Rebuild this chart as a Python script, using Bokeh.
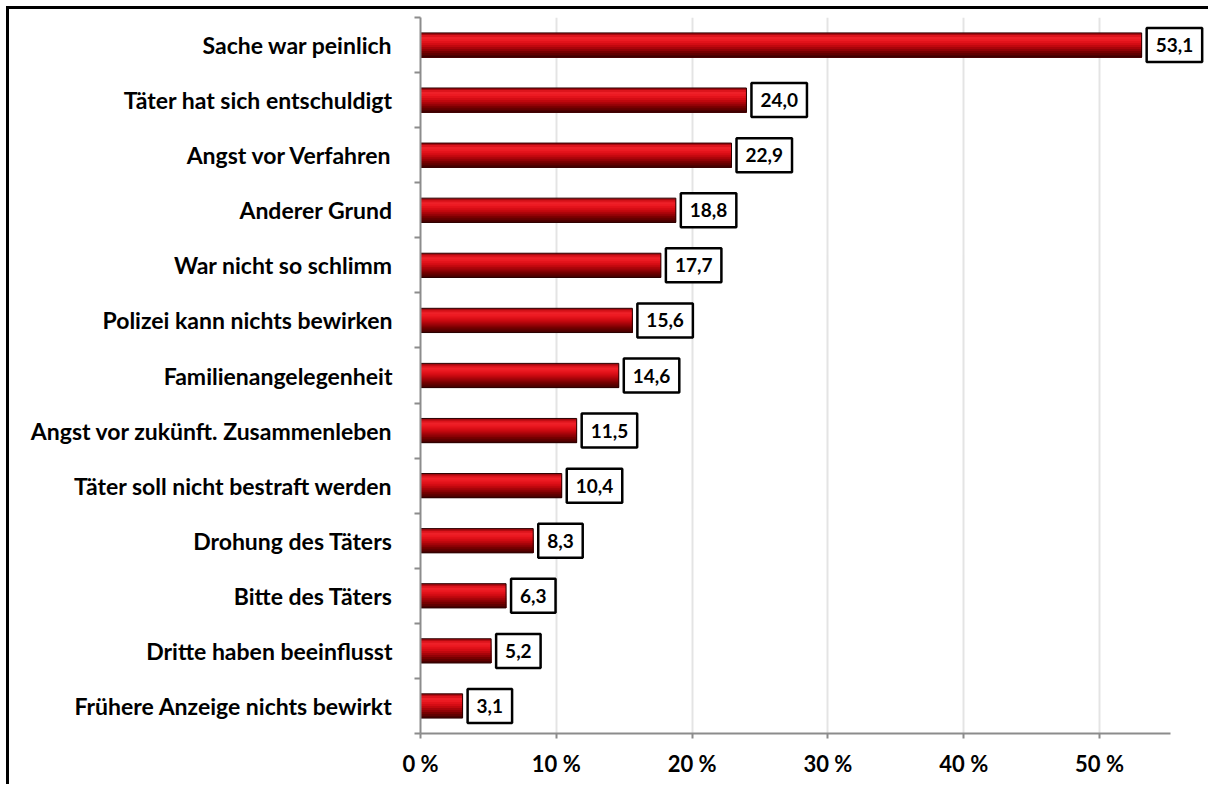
from bokeh.plotting import figure
from bokeh.models import Range1d, FixedTicker, ColumnDataSource, Label
from bokeh.transform import dodge
from bokeh.embed import file_html
from bokeh.resources import INLINE

categories = [
    "Sache war peinlich",
    "Täter hat sich entschuldigt",
    "Angst vor Verfahren",
    "Anderer Grund",
    "War nicht so schlimm",
    "Polizei kann nichts bewirken",
    "Familienangelegenheit",
    "Angst vor zukünft. Zusammenleben",
    "Täter soll nicht bestraft werden",
    "Drohung des Täters",
    "Bitte des Täters",
    "Dritte haben beeinflusst",
    "Frühere Anzeige nichts bewirkt",
]
values = [53.1, 24.0, 22.9, 18.8, 17.7, 15.6, 14.6, 11.5, 10.4, 8.3, 6.3, 5.2, 3.1]
x_ticks = [0, 10, 20, 30, 40, 50]
x_axis_end = 55.25

n = len(categories)
ypos = [i + 0.5 for i in range(n)]
labels = [f"{v:.1f}".replace(".", ",") for v in values]
src = ColumnDataSource(dict(y=ypos, value=values, label=labels))

FONT = "Lato"

p = figure(width=1202, height=778, output_backend="svg", toolbar_location=None,
           x_range=Range1d(0, 57.8), y_range=Range1d(n, 0),
           min_border_left=411, min_border_right=6, min_border_top=8, min_border_bottom=54)
p.styles = {"margin-left": "6px", "margin-top": "6px",
            "border-left": "3px solid black", "border-top": "3px solid black"}
p.outline_line_color = None
p.background_fill_color = "white"
p.border_fill_color = "white"

# layered bars (each drawn from its own top down to the bar bottom) for a cylinder-like gradient
bar_h = 0.44
stripe_colors = ["#a8080e", "#dc141c", "#ee2028", "#ec1a22", "#e2121a", "#d40c14",
                 "#c0080e", "#a8040a", "#900206", "#760000", "#600000", "#4a0000"]
ns = len(stripe_colors)
sh = bar_h / ns
for k, c in enumerate(stripe_colors):
    top = -bar_h / 2 + k * sh
    bottom = bar_h / 2
    p.hbar(y=dodge("y", (top + bottom) / 2, range=p.y_range), left=0, right="value",
           height=bottom - top, fill_color=c, line_color=None, source=src)
p.hbar(y="y", left=0, right="value", height=bar_h, fill_color=None,
       line_color="#2a0000", line_width=1, source=src)

# x axis
p.xaxis.ticker = FixedTicker(ticks=x_ticks)
p.xaxis.bounds = (0, x_axis_end)
p.xaxis.major_label_overrides = {t: f"{t} %" for t in x_ticks}
p.xaxis.axis_line_color = "#8c8c8c"
p.xaxis.axis_line_width = 2
p.xaxis.major_tick_line_color = "#8c8c8c"
p.xaxis.major_tick_line_width = 2
p.xaxis.major_tick_out = 5
p.xaxis.major_tick_in = 0
p.xaxis.minor_tick_line_color = None
p.xaxis.major_label_standoff = 11
p.xaxis.major_label_text_font = FONT
p.xaxis.major_label_text_font_style = "bold"
p.xaxis.major_label_text_font_size = "22px"
p.xaxis.major_label_text_color = "black"

# y axis
p.yaxis.ticker = FixedTicker(ticks=ypos, minor_ticks=list(range(n + 1)))
p.yaxis.major_label_overrides = {y: c for y, c in zip(ypos, categories)}
p.yaxis.axis_line_color = "#8c8c8c"
p.yaxis.axis_line_width = 2
p.yaxis.major_tick_line_color = None
p.yaxis.major_tick_out = 0
p.yaxis.major_tick_in = 0
p.yaxis.minor_tick_line_color = "#8c8c8c"
p.yaxis.minor_tick_line_width = 2
p.yaxis.minor_tick_out = 6
p.yaxis.minor_tick_in = 0
p.yaxis.major_label_standoff = 22
p.yaxis.major_label_text_font = FONT
p.yaxis.major_label_text_font_style = "bold"
p.yaxis.major_label_text_font_size = "23px"
p.yaxis.major_label_text_color = "black"

p.xgrid.ticker = FixedTicker(ticks=x_ticks[1:])
p.xgrid.grid_line_color = "#e4e4e4"
p.xgrid.grid_line_width = 2
p.ygrid.grid_line_color = None

for v, y, t in zip(values, ypos, labels):
    p.add_layout(Label(x=v, y=y, text=t, x_offset=5,
                       text_align="left", text_baseline="middle",
                       text_font=FONT, text_font_style="bold", text_font_size="19px",
                       text_color="black", background_fill_color="white",
                       border_line_color="black", border_line_width=2.5,
                       padding=dict(left=9, right=9, top=10, bottom=10)))

open("out.html", "w").write(file_html(p, INLINE))
